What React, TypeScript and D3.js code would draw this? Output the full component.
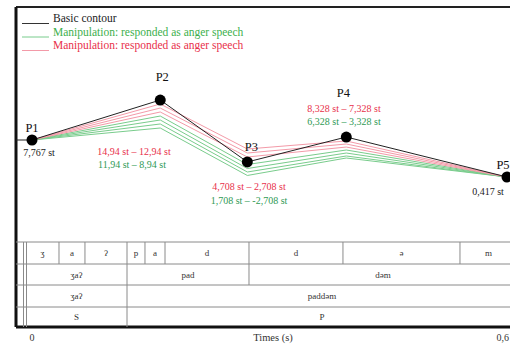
import React from "react";
import * as d3 from "d3";

const pointNames = ["P1", "P2", "P3", "P4", "P5"];
const pointTimes = [0, 0.162, 0.272, 0.397, 0.6];
const basicContour = [7.767, 15.71, 3.4, 8.36, 0.417];
const redLines = [
  [7.767, 14.92, 5.98, 7.57, 0.417],
  [7.767, 14.12, 5.18, 6.97, 0.417],
  [7.767, 13.33, 4.39, 6.37, 0.417],
];
const greenLines = [
  [7.767, 12.53, 2.9, 5.78, 0.417],
  [7.767, 11.74, 2.1, 5.18, 0.417],
  [7.767, 10.95, 1.41, 4.59, 0.417],
  [7.767, 10.15, 0.72, 4.19, 0.417],
];
const singleLabels = ["7,767 st", "", "", "", "0,417 st"];
const redRangeLabels = ["", "14,94 st – 12,94 st", "4,708 st – 2,708 st", "8,328 st – 7,328 st", ""];
const greenRangeLabels = ["", "11,94 st – 8,94 st", "1,708 st – -2,708 st", "6,328 st – 3,328 st", ""];

const phoneBounds = [null, 0.0341, 0.0669, 0.12, 0.1427, 0.168, 0.2741, 0.3928, 0.5406, null];
const phoneLabels = ["ʒ", "a", "ʔ", "p", "a", "d", "d", "ə", "m"];
const syllableBounds = [null, 0.12, 0.2741, null];
const syllableLabels = ["ʒaʔ", "pad", "dəm"];
const wordBounds = [null, 0.12, null];
const wordLabels = ["ʒaʔ", "paddəm"];
const roleBounds = [null, 0.12, null];
const roleLabels = ["S", "P"];
const timeTicks = [
  { t: 0, label: "0" },
  { t: 0.6, label: "0,6" },
];
const legendItems = [
  { label: "Basic contour", kind: "basic" },
  { label: "Manipulation: responded as anger speech", kind: "green" },
  { label: "Manipulation: responded as anger speech", kind: "red" },
];

const FONT = "'Liberation Serif', 'Times New Roman', serif";
const RED_TXT = "#e8304a";
const GREEN_TXT = "#2f9a55";
const RED_LN = "#f39aa8";
const GREEN_LN = "#79cc8c";

export default function App() {
  const W = 510;
  const H = 347;
  const frame = { x: 16, y: 7, r: 517, b: 327 };
  const x = d3.scaleLinear().domain([0, 0.6]).range([32, 507]);
  const y = d3.scaleLinear().domain([0.417, 7.767]).range([177, 140]);
  const line = d3
    .line<number>()
    .x((_, i) => x(pointTimes[i]))
    .y((v) => y(v));

  const tableLeft = 26;
  const tableRight = frame.r;
  const rowY = [242, 264, 285, 307, 327];
  const rows = [
    { bounds: phoneBounds, labels: phoneLabels },
    { bounds: syllableBounds, labels: syllableLabels },
    { bounds: wordBounds, labels: wordLabels },
    { bounds: roleBounds, labels: roleLabels },
  ];
  const bx = (b: number | null, isFirst: boolean) =>
    b === null ? (isFirst ? tableLeft : tableRight) : x(b);

  const nameOff = [
    { dx: 0, dy: -8 },
    { dx: 2, dy: -19 },
    { dx: 4, dy: -11 },
    { dx: -3, dy: -40 },
    { dx: -4, dy: -8 },
  ];

  return (
    <svg width={W} height={H} style={{ display: "block", position: "absolute", left: 0, top: 0, fontFamily: FONT }}>
      <rect x={0} y={0} width={W} height={H} fill="#fff" />
      {/* frame */}
      <line x1={frame.x} y1={frame.y} x2={frame.r} y2={frame.y} stroke="#222" strokeWidth={2} />
      <line x1={frame.x} y1={frame.y} x2={frame.x} y2={frame.b} stroke="#111" strokeWidth={3} />
      <line x1={frame.x} y1={frame.b} x2={frame.r} y2={frame.b} stroke="#111" strokeWidth={3} />

      {/* legend */}
      {legendItems.map((it, i) => {
        const base = [22, 35.5, 49][i];
        const lc = it.kind === "basic" ? "#333" : it.kind === "green" ? GREEN_LN : RED_LN;
        const tc = it.kind === "basic" ? "#222" : it.kind === "green" ? "#3cb04c" : RED_TXT;
        return (
          <g key={i}>
            <line x1={22} x2={49} y1={base + 1.5} y2={base + 1.5} stroke={lc} strokeWidth={1} />
            <text x={53} y={base} fontSize={11.5} fill={tc}>
              {it.label}
            </text>
          </g>
        );
      })}

      {/* lead-in line */}
      <line x1={frame.x} x2={x(pointTimes[0])} y1={y(basicContour[0])} y2={y(basicContour[0])} stroke="#222" strokeWidth={1} />

      {/* manipulated contours */}
      {greenLines.map((s, i) => (
        <path key={"g" + i} d={line(s) || ""} fill="none" stroke={GREEN_LN} strokeWidth={1} />
      ))}
      {redLines.map((s, i) => (
        <path key={"r" + i} d={line(s) || ""} fill="none" stroke={RED_LN} strokeWidth={1} />
      ))}
      <path d={line(basicContour) || ""} fill="none" stroke="#222" strokeWidth={1} />
      {basicContour.map((v, i) => (
        <circle key={"c" + i} cx={x(pointTimes[i])} cy={y(v)} r={5.5} fill="#000" />
      ))}

      {/* point names */}
      {pointNames.map((n, i) => (
        <text
          key={"n" + i}
          x={x(pointTimes[i]) + nameOff[i].dx}
          y={y(basicContour[i]) + nameOff[i].dy}
          fontSize={12.5}
          textAnchor="middle"
          fill="#111"
        >
          {n}
        </text>
      ))}

      {/* value labels */}
      {singleLabels.map((s, i) =>
        s ? (
          <text
            key={"s" + i}
            x={x(pointTimes[i]) + (i === 0 ? 7 : -19)}
            y={y(basicContour[i]) + (i === 0 ? 16 : 18)}
            fontSize={10}
            textAnchor="middle"
            fill="#222"
          >
            {s}
          </text>
        ) : null
      )}
      {redRangeLabels.map((s, i) => {
        if (!s) return null;
        const pos = [null, { x: 134, y: 155 }, { x: 249, y: 189.5 }, { x: 344, y: 111.5 }][i]!;
        return (
          <text key={"rl" + i} x={pos.x} y={pos.y} fontSize={10} textAnchor="middle" fill={RED_TXT}>
            {s}
          </text>
        );
      })}
      {greenRangeLabels.map((s, i) => {
        if (!s) return null;
        const pos = [null, { x: 132, y: 168 }, { x: 249, y: 203.5 }, { x: 344, y: 124.5 }][i]!;
        return (
          <text key={"gl" + i} x={pos.x} y={pos.y} fontSize={10} textAnchor="middle" fill={GREEN_TXT}>
            {s}
          </text>
        );
      })}

      {/* table */}
      <g stroke="#8a8a8a" strokeWidth={1}>
        {rowY.slice(0, 4).map((ry, i) => (
          <line key={"h" + i} x1={frame.x} x2={tableRight} y1={ry} y2={ry} />
        ))}
        <line x1={23.5} x2={23.5} y1={rowY[0]} y2={rowY[4]} />
        <line x1={26.5} x2={26.5} y1={rowY[0]} y2={rowY[4]} />
      </g>
      {rows.map((row, ri) => {
        const y0 = rowY[ri];
        const y1 = rowY[ri + 1];
        return (
          <g key={"row" + ri}>
            {row.labels.map((lab, ci) => {
              const a = bx(row.bounds[ci], ci === 0);
              const b = bx(row.bounds[ci + 1], false);
              return (
                <g key={ci}>
                  {ci > 0 ? <line x1={a} x2={a} y1={y0} y2={y1} stroke="#8a8a8a" strokeWidth={1} /> : null}
                  <text x={(a + b) / 2} y={(y0 + y1) / 2 + 3} fontSize={9} textAnchor="middle" fill="#333">
                    {lab}
                  </text>
                </g>
              );
            })}
          </g>
        );
      })}

      {/* time axis labels */}
      {timeTicks.map((tk, i) => (
        <text key={"t" + i} x={i === 0 ? x(tk.t) : 509} y={341} fontSize={10} textAnchor={i === 0 ? "middle" : "end"} fill="#333">
          {tk.label}
        </text>
      ))}
      <text x={273} y={341} fontSize={10.5} textAnchor="middle" fill="#333">
        Times (s)
      </text>
    </svg>
  );
}
